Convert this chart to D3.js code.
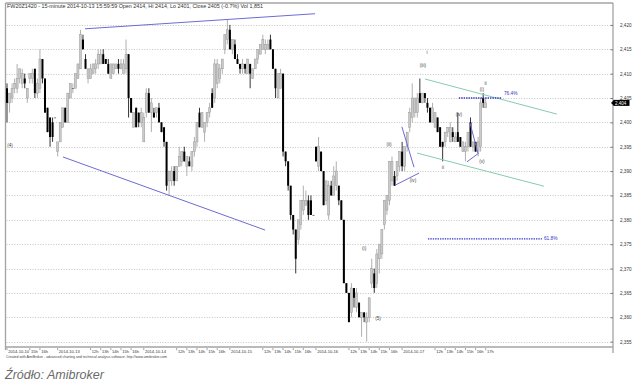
<!DOCTYPE html>
<html><head><meta charset="utf-8">
<script src="https://cdn.jsdelivr.net/npm/d3@7"></script>
<style>body{margin:0;background:#fff}svg{display:block}</style>
</head><body>
<svg id="c" width="640" height="381"></svg>
<script>
// ---- DATA (FW20Z1420, 15-minute bars, 2014-10-10 .. 2014-10-17) ----
const opens = [
2407,2404,2405,2407,2407,2409,2408,2409,2405,2409,2409,2411,2406,2407,2413,2409,2403,2401,2400,2401,
2394,2396,2399,2403,2400,2405,2407,2407,2409,2411,2417,2413,2409,2409,2410,2411,2412,2412,2414,2413,2412,2409,2410,2411,2412,2411,2410,2411,2414,2405,2399,2403,2402,2400,
2396,2402,2406,2402,2402,2402,2403,2400,2399,2396,2388,2388,2390,2388,2391,2392,2394,2391,2392,2391,2394,2396,2402,2399,2398,2400,2402,2406,2405,2408,2409,2411,2415,2417,
2419,2415,2416,2413,2412,2411,2412,2410,2412,2409,2411,2413,2414,2415,2415,2415,2417,2415,2411,2405,2407,2410,2394,2392,2387,2381,2378,2376,2379,2382,2383,2384,2384,2381,
2395,2391,2394,2390,2384,2381,2387,2385,2387,2387,2384,2380,2367,2365,2361,2366,2362,2363,2360,2361,2359,2360,2367,2369,2367,2372,2373,2379,2382,2384,2388,2389,2389,2391,
2394,2391,2395,2399,2401,2402,2402,2406,2404,2406,2404,2403,2400,2399,2401,2399,2396,2396,2398,2396,2398,2396,2398,2397,2394,2394,2395,2400,2395,2396,2394,2395,2405,2403];
const highs = [
2408,2406,2408,2409,2412,2411,2411,2410,2407,2410,2411,2411,2409,2415,2413,2409,2403,2401,2401,2401,
2396,2400,2403,2403,2406,2408,2408,2410,2412,2419,2418,2414,2411,2412,2412,2413,2415,2415,2415,2413,2413,2412,2412,2412,2413,2413,2413,2417,2414,2405,2402,2403,2402,2403,
2402,2407,2407,2405,2403,2403,2404,2400,2399,2396,2390,2391,2391,2391,2395,2394,2395,2393,2393,2394,2397,2400,2403,2402,2400,2402,2404,2407,2413,2413,2412,2413,2418,2421,
2420,2417,2417,2414,2412,2413,2412,2413,2412,2411,2413,2415,2416,2418,2417,2417,2418,2415,2411,2410,2411,2410,2394,2392,2387,2381,2378,2380,2384,2387,2386,2385,2385,2381,
2395,2397,2394,2390,2388,2388,2388,2391,2392,2387,2384,2380,2367,2365,2367,2366,2366,2363,2361,2361,2361,2364,2372,2370,2374,2375,2378,2384,2385,2392,2393,2390,2392,2394,
2396,2395,2398,2403,2408,2405,2406,2409,2406,2406,2405,2403,2404,2402,2401,2399,2396,2398,2399,2400,2399,2398,2402,2397,2396,2396,2398,2401,2396,2396,2397,2405,2406,2405];
const lows = [
2400,2402,2404,2406,2406,2408,2407,2407,2404,2408,2408,2405,2405,2406,2408,2402,2398,2395,2396,2401,
2393,2396,2399,2400,2400,2405,2406,2407,2409,2411,2415,2411,2408,2409,2410,2410,2411,2412,2412,2412,2410,2409,2410,2411,2410,2411,2410,2410,2401,2402,2399,2399,2399,2399,
2396,2401,2402,2398,2401,2401,2400,2398,2395,2386,2385,2387,2387,2388,2391,2391,2392,2389,2391,2390,2393,2395,2399,2399,2396,2399,2401,2403,2404,2407,2408,2410,2414,2416,
2415,2414,2413,2412,2410,2410,2410,2410,2407,2409,2411,2412,2414,2415,2414,2415,2415,2411,2405,2405,2407,2393,2391,2386,2380,2377,2369,2375,2378,2381,2383,2380,2381,2381,
2392,2390,2390,2383,2383,2380,2385,2385,2386,2383,2380,2367,2365,2359,2360,2362,2361,2360,2356,2359,2355,2359,2366,2365,2366,2369,2372,2378,2381,2383,2387,2387,2388,2390,
2390,2390,2394,2398,2400,2401,2401,2404,2404,2404,2402,2400,2400,2399,2398,2395,2392,2395,2397,2396,2396,2396,2396,2395,2394,2392,2394,2395,2394,2394,2393,2394,2403,2403];
const closes = [
2404,2406,2407,2408,2409,2411,2410,2408,2407,2410,2410,2406,2408,2413,2409,2402,2398,2397,2397,2401,
2396,2400,2403,2400,2406,2408,2407,2410,2412,2418,2415,2411,2411,2411,2412,2412,2414,2414,2412,2412,2410,2412,2412,2412,2411,2412,2412,2414,2405,2402,2402,2399,2400,2402,
2401,2406,2402,2404,2401,2403,2400,2398,2396,2387,2390,2390,2388,2391,2393,2394,2392,2393,2391,2394,2396,2400,2399,2402,2400,2402,2403,2403,2412,2412,2411,2413,2418,2419,
2415,2417,2413,2412,2411,2412,2411,2413,2410,2411,2413,2415,2416,2417,2416,2416,2415,2411,2407,2410,2410,2394,2392,2387,2381,2378,2372,2380,2384,2384,2384,2381,2381,2381,
2392,2395,2390,2383,2388,2387,2385,2389,2390,2384,2380,2367,2365,2359,2366,2364,2365,2360,2361,2360,2360,2364,2370,2366,2373,2375,2378,2384,2385,2392,2392,2387,2392,2394,
2391,2395,2398,2402,2405,2405,2405,2404,2406,2405,2403,2400,2403,2402,2398,2395,2395,2398,2399,2399,2397,2397,2396,2395,2396,2395,2398,2395,2396,2394,2396,2404,2404,2404];

// x-axis labels (bar index where each label sits)
const tickBars = [0,9,13, 20,33,37,41,45,49, 54,67,71,75,79,83, 88,101,105,109,113,117, 122,135,139,143,147,151, 156,169,173,177,181,185,189];
const tickLabels = ["2014-10-10","15h","16h",
  "2014-10-13","12h","13h","14h","15h","16h",
  "2014-10-14","12h","13h","14h","15h","16h",
  "2014-10-15","12h","13h","14h","15h","16h",
  "2014-10-16","12h","13h","14h","15h","16h",
  "2014-10-17","12h","13h","14h","15h","16h","17h"];
const yTicks = [2355,2360,2365,2370,2375,2380,2385,2390,2395,2400,2405,2410,2415,2420];

// drawn studies, anchored at [bar index, price]
const blueLines = [
  [[30.8,2419.2],[121.6,2422.3]],
  [[22.1,2392.9],[101.9,2377.9]],
  [[155.9,2399.1],[160.7,2390.8]],
  [[153.2,2387.1],[162.7,2389.6]],
  [[182.8,2399.9],[185.9,2393.7]],
  [[181.6,2391.9],[186.3,2393.7]]
];
const greenLines = [
  [[165.0,2408.9],[217.1,2401.7]],
  [[161.9,2393.7],[212.0,2386.9]]
];
const fibLabels = ["76.4%","61.8%"];
const fibPrices = [2405.0,2376.1];
const fibFrom = [178.4,166.2];
const fibTo = [195.4,211.2];
const waveText = ["(4)","(i)","(5)","(ii)","(iii)","i","(iv)","(iv)","ii","(v)","(i)","ii"];
const waveBar  = [1.2,141,146.5,150.8,164.2,165.8,160.3,178.4,172.1,187.5,187.5,188.9];
const wavePrice= [2395.2,2374.2,2359.8,2395.4,2411.6,2414.3,2388.0,2401.7,2390.8,2392.0,2406.7,2408.1];

const titleText = "FW20Z1420 - 15-minute 2014-10-13 15:59:59 Open 2414, Hi 2414, Lo 2401, Close 2405 (-0.7%) Vol 1,851";
const footerText = "Created with AmiBroker - advanced charting and technical analysis software. http://www.amibroker.com";
const sourceText = "Źródło: Amibroker";

// ---- DRAWING ----
const svg = d3.select("#c");
const F = "'Liberation Sans', Arial, sans-serif";
const n = closes.length;
const x = d3.scaleLinear().domain([0, n-1]).range([7, 485.7]);
const y = d3.scaleLinear().domain([2353.9, 2424.5]).range([347, 3]);
const plotL = 5.5, plotR = 613, plotT = 3, plotB = 347;

// grid
svg.append("g").selectAll("line").data(yTicks).join("line")
  .attr("x1", plotL+1).attr("x2", plotR-1)
  .attr("y1", d=>Math.round(y(d))+0.5).attr("y2", d=>Math.round(y(d))+0.5)
  .attr("stroke","#c4c4c4").attr("stroke-width",1).attr("stroke-dasharray","1,1.6");

// frame
const fr = svg.append("g").attr("stroke","#a3a3a3").attr("stroke-width",1.3);
fr.append("line").attr("x1",plotL).attr("x2",plotR).attr("y1",plotT).attr("y2",plotT);
fr.append("line").attr("x1",plotL).attr("x2",plotR).attr("y1",plotB).attr("y2",plotB);
fr.append("line").attr("x1",plotL).attr("x2",plotL).attr("y1",plotT).attr("y2",350);
fr.append("line").attr("x1",plotR).attr("x2",plotR).attr("y1",plotT).attr("y2",353);

// y axis
const ya = d3.axisRight(y).tickValues(yTicks).tickFormat(d3.format(",")).tickSize(-2.5).tickPadding(7);
const yg = svg.append("g").attr("transform",`translate(${plotR},0)`).call(ya);
yg.select(".domain").remove();
yg.selectAll(".tick line").attr("stroke","#777");
yg.selectAll(".tick text").attr("font-family",F).attr("font-size",4.6).attr("fill","#333");

// candles
const idx = d3.range(n);
const bw = 2;
const cg = svg.append("g");
cg.selectAll("line").data(idx).join("line")
  .attr("x1", i=>x(i)).attr("x2", i=>x(i))
  .attr("y1", i=>y(highs[i])).attr("y2", i=>y(lows[i]))
  .attr("stroke", i=>closes[i]>=opens[i] ? "#9c9c9c" : "#000").attr("stroke-width",0.8);
cg.selectAll("rect").data(idx).join("rect")
  .attr("x", i=>x(i)-bw/2).attr("width", bw)
  .attr("y", i=>y(Math.max(opens[i],closes[i])))
  .attr("height", i=>Math.max(0.8, y(Math.min(opens[i],closes[i]))-y(Math.max(opens[i],closes[i]))))
  .attr("fill", i=>closes[i]>opens[i] ? "#cbcbcb" : (closes[i]<opens[i] ? "#000" : "#555"))
  .attr("stroke", i=>closes[i]>opens[i] ? "#9a9a9a" : "none").attr("stroke-width",0.5);

// trend lines
const lg = svg.append("g");
lg.selectAll("line.b").data(blueLines).join("line").attr("class","b")
  .attr("x1",d=>x(d[0][0])).attr("y1",d=>y(d[0][1])).attr("x2",d=>x(d[1][0])).attr("y2",d=>y(d[1][1]))
  .attr("stroke","#6b6bd8").attr("stroke-width",1);
lg.selectAll("line.g").data(greenLines).join("line").attr("class","g")
  .attr("x1",d=>x(d[0][0])).attr("y1",d=>y(d[0][1])).attr("x2",d=>x(d[1][0])).attr("y2",d=>y(d[1][1]))
  .attr("stroke","#86ccb0").attr("stroke-width",1);

// fib levels
const fg = svg.append("g");
fibLabels.forEach((lab,k)=>{
  fg.append("line").attr("x1",x(fibFrom[k])).attr("x2",x(fibTo[k]))
    .attr("y1",y(fibPrices[k])).attr("y2",y(fibPrices[k]))
    .attr("stroke","#3535c8").attr("stroke-width",1.4).attr("stroke-dasharray","1.4,1");
  fg.append("text").attr("x",x(fibTo[k])+2).attr("y",y(fibPrices[k])+(k===0?-3:1.6))
    .attr("font-family",F).attr("font-size",4.8).attr("fill","#3535c8").text(lab);
});

// wave labels
svg.append("g").selectAll("text").data(waveText).join("text")
  .attr("x",(d,k)=>x(waveBar[k])).attr("y",(d,k)=>y(wavePrice[k])+1.6)
  .attr("text-anchor","middle").attr("font-family",F).attr("font-size",4.6).attr("fill","#444")
  .text(d=>d);

// last price marker
const last = closes[n-1], ly = y(last);
svg.append("path").attr("d",`M${plotR-2},${ly} L${plotR+1},${ly-2.8} L${plotR+1},${ly+2.8} Z`).attr("fill","#000");
svg.append("rect").attr("x",plotR+0.5).attr("y",ly-3).attr("width",16).attr("height",6).attr("fill","#000");
svg.append("text").attr("x",plotR+2).attr("y",ly+1.7).attr("font-family",F).attr("font-size",4.5)
  .attr("fill","#fff").text(d3.format(",")(last));

// x labels
const xg = svg.append("g");
tickBars.forEach((b,k)=>{
  const xx = x(b);
  xg.append("line").attr("x1",xx).attr("x2",xx).attr("y1",plotB+1).attr("y2",plotB+3.2)
    .attr("stroke","#666").attr("stroke-width",0.6);
  xg.append("text").attr("x",xx+1.2).attr("y",352.8).attr("font-family",F).attr("font-size",4.1)
    .attr("fill","#333").text(tickLabels[k]);
});

// title, footer, source
svg.append("text").attr("x",7).attr("y",8.4).attr("font-family",F).attr("font-size",5.4)
  .attr("fill","#333").attr("textLength",256).attr("lengthAdjust","spacingAndGlyphs").text(titleText);
svg.append("text").attr("x",6).attr("y",358.3).attr("font-family",F).attr("font-size",3.9)
  .attr("fill","#444").attr("textLength",161).attr("lengthAdjust","spacingAndGlyphs").text(footerText);
svg.append("text").attr("x",5).attr("y",378.5).attr("font-family",F).attr("font-size",12.5)
  .attr("font-style","italic").attr("fill","#6a6a6a").text(sourceText);
</script>
</body></html>
